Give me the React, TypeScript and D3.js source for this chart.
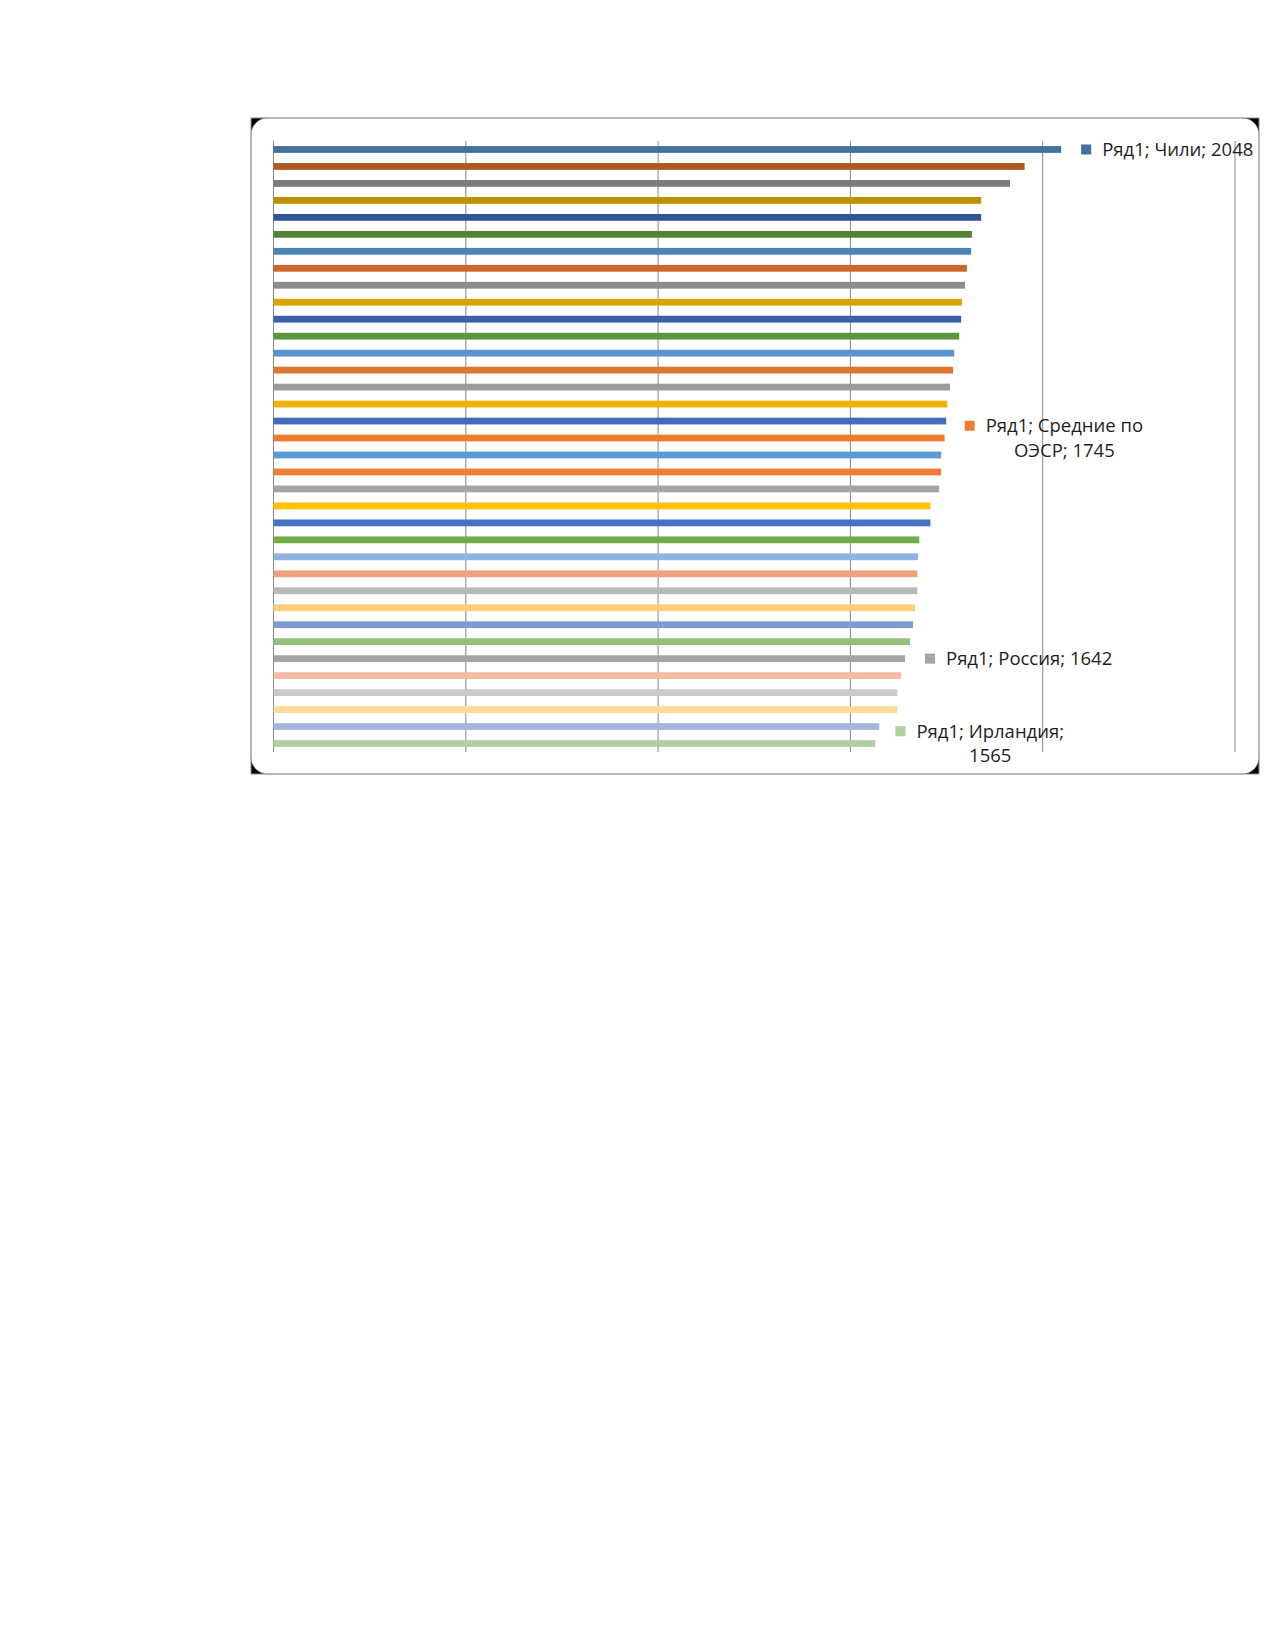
import React, { useEffect, useRef } from "react";
import * as d3 from "d3";

// values, top to bottom
const values = [
  2048, 1953, 1915, 1840, 1840, 1816, 1814, 1803, 1798, 1790, 1788, 1783,
  1770, 1767, 1759, 1752, 1749, 1745, 1736, 1736, 1731, 1708, 1708, 1679,
  1676, 1674, 1674, 1668, 1663, 1655, 1642, 1632, 1622, 1622, 1575, 1565,
];

const seriesName = "Ряд1";
const labelIndex = [0, 17, 30, 35];
const labelNames = ["Чили", "Средние по ОЭСР", "Россия", "Ирландия"];
const xTicks = [0, 500, 1000, 1500, 2000, 2500];

// Excel "vary colours by point" palette, dark to light
const palette = [
  "#41719c", "#ae5a21", "#7b7b7b", "#bf9000", "#2f5597", "#538135",
  "#4d84b8", "#c9682a", "#8c8c8c", "#d9a300", "#3a62ab", "#5e9340",
  "#5895cf", "#df7632", "#9c9c9c", "#edb400", "#416cbb", "#ed7d31",
  "#5b9bd5", "#ed7d31", "#a5a5a5", "#ffc000", "#4472c4", "#70ad47",
  "#8db4e2", "#f0a07c", "#b8b8b8", "#ffcf75", "#7f9bd2", "#93c17b",
  "#a5a5a5", "#f4bba3", "#c9c9c9", "#ffda9a", "#a6b6dd", "#b1cfa1",
];

const App: React.FC = () => {
  const svgRef = useRef<SVGSVGElement>(null);

  useEffect(() => {
    if (!svgRef.current) return;
    const svg = d3.select(svgRef.current);
    svg.selectAll("*").remove();

    const frame = { left: 251, top: 118, right: 1259, bottom: 774 };
    const plot = { left: 273.5, right: 1235, top: 141, bottom: 752 };

    // chart area: black behind, white rounded panel, grey border
    svg.append("rect")
      .attr("x", frame.left).attr("y", frame.top)
      .attr("width", frame.right - frame.left)
      .attr("height", frame.bottom - frame.top)
      .attr("fill", "#000");
    svg.append("rect")
      .attr("x", frame.left).attr("y", frame.top)
      .attr("width", frame.right - frame.left)
      .attr("height", frame.bottom - frame.top)
      .attr("rx", 17).attr("ry", 17)
      .attr("fill", "#fff")
      .attr("stroke", "#b0b0b0").attr("stroke-width", 0.6);
    svg.append("rect")
      .attr("x", frame.left).attr("y", frame.top)
      .attr("width", frame.right - frame.left)
      .attr("height", frame.bottom - frame.top)
      .attr("fill", "none")
      .attr("stroke", "#8c8c8c").attr("stroke-width", 1);

    const x = d3.scaleLinear().domain([0, 2500]).range([plot.left, plot.right]);
    const y = d3.scaleBand<number>()
      .domain(d3.range(values.length))
      .range([plot.top, plot.bottom])
      .paddingInner(0.6)
      .paddingOuter(0.3);

    // gridlines
    svg.append("g")
      .selectAll("line")
      .data(xTicks)
      .enter().append("line")
      .attr("x1", d => x(d)).attr("x2", d => x(d))
      .attr("y1", plot.top).attr("y2", plot.bottom)
      .attr("stroke", "#868686")
      .attr("stroke-width", 1);

    // bars
    svg.append("g")
      .selectAll("rect")
      .data(values)
      .enter().append("rect")
      .attr("x", x(0))
      .attr("y", (d, i) => y(i) as number)
      .attr("width", d => x(d) - x(0))
      .attr("height", y.bandwidth())
      .attr("fill", (d, i) => palette[i]);

    // data labels
    const fontSize = 18.5;
    const lineH = 24.5;
    const maxW = 180;
    const mark = 10;
    const labels = svg.append("g")
      .attr("font-family", "'Open Sans', 'Noto Sans', sans-serif")
      .attr("font-size", fontSize)
      .attr("fill", "#1e1e1e");

    const measure = (s: string) => {
      const t = labels.append("text").text(s);
      const w = (t.node() as SVGTextElement).getComputedTextLength();
      t.remove();
      return w;
    };

    labelIndex.forEach((idx, k) => {
      const text = `${seriesName}; ${labelNames[k]}; ${values[idx]}`;
      const words = text.split(" ");
      const lines: string[] = [];
      let cur = "";
      words.forEach(w => {
        const next = cur ? cur + " " + w : w;
        if (cur && measure(next) > maxW) {
          lines.push(cur);
          cur = w;
        } else cur = next;
      });
      if (cur) lines.push(cur);

      const blockW = d3.max(lines, measure) as number;
      const mx = x(values[idx]) + 20;
      const tx = mx + mark + 11;
      const cy = (y(idx) as number) + y.bandwidth() / 2;
      const n = lines.length;

      lines.forEach((l, i) => {
        labels.append("text")
          .attr("x", tx + blockW / 2)
          .attr("y", cy + (i - (n - 1) / 2) * lineH)
          .attr("dy", "0.35em")
          .attr("text-anchor", "middle")
          .text(l);
      });
      labels.append("rect")
        .attr("x", mx)
        .attr("y", cy - ((n - 1) / 2) * lineH - mark / 2)
        .attr("width", mark).attr("height", mark)
        .attr("fill", palette[idx]);
    });
  }, []);

  return (
    <svg
      ref={svgRef}
      width={1275}
      height={1650}
      style={{ position: "absolute", left: 0, top: 0, background: "#fff" }}
    />
  );
};

export default App;
